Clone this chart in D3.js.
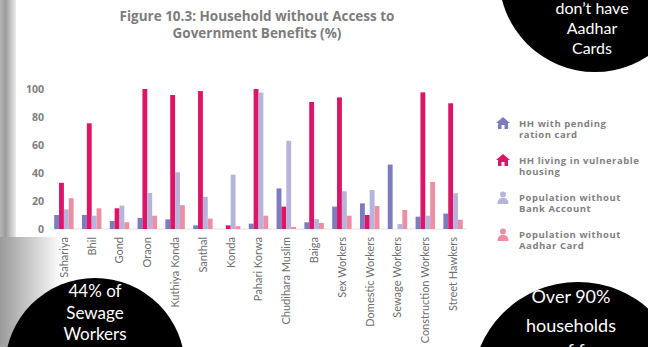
<!DOCTYPE html>
<html>
<head>
<meta charset="utf-8">
<script src="https://cdn.jsdelivr.net/npm/d3@7"></script>
<style>
  html, body { margin: 0; padding: 0; background: #fff; }
  svg { display: block; }
</style>
</head>
<body>
<div id="chart"></div>
<script>
// chart data
const categories = [ 'Sahariya', 'Bhil', 'Gond', 'Oraon', 'Kuthiya Konda', 'Santhal', 'Konda',
  'Pahari Korwa', 'Chudihara Muslim', 'Baiga', 'Sex Workers', 'Domestic Workers',
  'Sewage Workers', 'Construction Workers', 'Street Hawkers' ];
const pendingRation     = [ 10, 10, 5.7, 7.9, 6.9, 2.6, 0, 3.8, 29, 4.8, 16, 18.3, 46, 8.8, 11 ];
const vulnerableHousing = [ 33, 75.5, 14.8, 100, 95.7, 98.5, 2.6, 100, 16, 90.7, 94, 10, 0, 97.6, 89.8 ];
const withoutBank       = [ 14, 9.5, 16.7, 25.7, 40.5, 23, 38.8, 97.5, 63, 7, 27, 27.9, 3.6, 9.5, 25.5 ];
const withoutAadhar     = [ 22, 14.8, 4.8, 9.5, 17, 7.4, 2, 9.5, 1.5, 4.3, 9.5, 16.4, 13.6, 33.6, 6.6 ];
const yTicks = [ 0, 20, 40, 60, 80, 100 ];

const seriesNames = [ 'HH with pending|ration card', 'HH living in vulnerable|housing',
  'Population without|Bank Account', 'Population without|Aadhar Card' ];
const seriesColors = [ '#7b7dbf', '#dc1567', '#b7b4dc', '#ec8ea4' ];
const seriesIcons = [ 'house', 'house', 'person', 'person' ];
const seriesValues = [ pendingRation, vulnerableHousing, withoutBank, withoutAadhar ];

const W = 648, H = 347;
const plot = { left: 50, right: 467, top: 89, bottom: 229 };

const svg = d3.select( '#chart' ).append( 'svg' )
  .attr( 'width', W ).attr( 'height', H );

// slide background bits on the left edge
const defs = svg.append( 'defs' );
const g1 = defs.append( 'linearGradient' ).attr( 'id', 'edge' );
g1.append( 'stop' ).attr( 'offset', '0%' ).attr( 'stop-color', '#b4b4b4' );
g1.append( 'stop' ).attr( 'offset', '35%' ).attr( 'stop-color', '#9c9c9c' );
g1.append( 'stop' ).attr( 'offset', '100%' ).attr( 'stop-color', '#ededed' );
const g2 = defs.append( 'linearGradient' ).attr( 'id', 'corner' );
g2.append( 'stop' ).attr( 'offset', '0%' ).attr( 'stop-color', '#9a9a9a' );
g2.append( 'stop' ).attr( 'offset', '60%' ).attr( 'stop-color', '#d6d6d6' );
g2.append( 'stop' ).attr( 'offset', '100%' ).attr( 'stop-color', '#ffffff' );

svg.append( 'rect' ).attr( 'x', 0 ).attr( 'y', 0 ).attr( 'width', 16 ).attr( 'height', 237 )
  .attr( 'fill', 'url(#edge)' );
svg.append( 'rect' ).attr( 'x', 0 ).attr( 'y', 237 ).attr( 'width', 62 ).attr( 'height', 110 )
  .attr( 'fill', 'url(#corner)' );

// title
const title = svg.append( 'text' )
  .attr( 'x', 257 ).attr( 'y', 21 )
  .attr( 'text-anchor', 'middle' )
  .style( 'font-family', '"Open Sans", sans-serif' )
  .style( 'font-weight', 'bold' )
  .style( 'font-size', '13.5px' )
  .attr( 'fill', '#7c7c7c' );
title.append( 'tspan' ).attr( 'x', 257 ).text( 'Figure 10.3: Household without Access to' );
title.append( 'tspan' ).attr( 'x', 257 ).attr( 'dy', 17 ).text( 'Government Benefits (%)' );

// scales
const x = d3.scaleBand().domain( categories )
  .range( [ plot.left, plot.right ] )
  .paddingInner( 0.3 ).paddingOuter( 0.15 );
const xInner = d3.scaleBand().domain( d3.range( 4 ) ).range( [ 0, x.bandwidth() ] );
const y = d3.scaleLinear().domain( [ 0, 100 ] ).range( [ plot.bottom, plot.top ] );

// y axis labels only
const yAxis = svg.append( 'g' )
  .attr( 'transform', `translate(${plot.left - 6},0)` )
  .call( d3.axisLeft( y ).tickValues( yTicks ).tickSize( 0 ).tickPadding( 0 ) );
yAxis.select( '.domain' ).remove();
yAxis.selectAll( 'text' )
  .style( 'font-family', '"Open Sans", sans-serif' )
  .style( 'font-weight', 'bold' )
  .style( 'font-size', '10.5px' )
  .attr( 'fill', '#7e7e7e' );

// baseline
svg.append( 'line' )
  .attr( 'x1', plot.left ).attr( 'x2', plot.right )
  .attr( 'y1', y( 0 ) ).attr( 'y2', y( 0 ) )
  .attr( 'stroke', '#e2e2e2' ).attr( 'stroke-width', 1 );

// bars
const groups = svg.append( 'g' ).selectAll( 'g' )
  .data( categories )
  .join( 'g' )
  .attr( 'transform', d => `translate(${x( d )},0)` );

groups.selectAll( 'rect' )
  .data( ( d, i ) => seriesValues.map( ( s, k ) => ( { k, v: s[ i ] } ) ) )
  .join( 'rect' )
  .attr( 'x', d => xInner( d.k ) )
  .attr( 'width', xInner.bandwidth() )
  .attr( 'y', d => y( d.v ) )
  .attr( 'height', d => y( 0 ) - y( d.v ) )
  .attr( 'fill', d => seriesColors[ d.k ] );

// x labels, rotated
const xAxis = svg.append( 'g' )
  .attr( 'transform', `translate(0,${plot.bottom + 8})` )
  .call( d3.axisBottom( x ).tickSize( 0 ).tickPadding( 0 ) );
xAxis.select( '.domain' ).remove();
xAxis.selectAll( 'text' )
  .attr( 'transform', 'rotate(-90)' )
  .attr( 'text-anchor', 'end' )
  .attr( 'x', 0 ).attr( 'y', 0 ).attr( 'dy', '0.35em' )
  .style( 'font-family', 'Lato, sans-serif' )
  .style( 'font-size', '11px' )
  .attr( 'fill', '#6e6e6e' );

// legend
const housePath = 'M0,-6 L7,0 L5,0 L5,6 L1.5,6 L1.5,2 L-1.5,2 L-1.5,6 L-5,6 L-5,0 L-7,0 Z';
const legend = svg.append( 'g' );
seriesNames.forEach( ( name, k ) => {
  const ly = 123 + k * 37;
  const item = legend.append( 'g' ).attr( 'transform', `translate(503,${ly})` );
  if ( seriesIcons[ k ] === 'house' ) {
    item.append( 'path' ).attr( 'd', housePath ).attr( 'fill', seriesColors[ k ] );
  } else {
    item.append( 'circle' ).attr( 'cx', 0 ).attr( 'cy', -2.5 ).attr( 'r', 3 )
      .attr( 'fill', seriesColors[ k ] );
    item.append( 'path' ).attr( 'd', 'M-5.5,7 C-5.5,2 -3,1 0,1 C3,1 5.5,2 5.5,7 Z' )
      .attr( 'fill', seriesColors[ k ] );
  }
  name.split( '|' ).forEach( ( line, j ) => {
    item.append( 'text' )
      .attr( 'x', 16 ).attr( 'y', 3.5 + j * 11.5 )
      .style( 'font-family', '"Open Sans", sans-serif' )
      .style( 'font-weight', 'bold' )
      .style( 'font-size', '9.5px' )
      .style( 'letter-spacing', '0.55px' )
      .attr( 'fill', '#818181' )
      .text( line );
  } );
} );

// black call-out circles from the slide
const callouts = [
  { cx: 595, cy: -24, r: 96, lines: [ 'don\u2019t have', 'Aadhar', 'Cards' ], tx: 592, ys: [ 14, 34, 54 ], fs: 16 },
  { cx: 95, cy: 368, r: 90, lines: [ '44% of', 'Sewage', 'Workers' ], tx: 95, ys: [ 297, 318.5, 340 ], fs: 17 },
  { cx: 578, cy: 388, r: 106, lines: [ 'Over 90%', 'households', 'of f' ], tx: 571, ys: [ 303, 332, 357 ], fs: 18 }
];
callouts.forEach( c => {
  svg.append( 'circle' ).attr( 'cx', c.cx ).attr( 'cy', c.cy ).attr( 'r', c.r ).attr( 'fill', '#000' );
  c.lines.forEach( ( line, j ) => {
    svg.append( 'text' )
      .attr( 'x', c.tx ).attr( 'y', c.ys[ j ] )
      .attr( 'text-anchor', 'middle' )
      .style( 'font-family', 'Lato, sans-serif' )
      .style( 'font-size', c.fs + 'px' )
      .attr( 'fill', '#fff' )
      .text( line );
  } );
} );
</script>
</body>
</html>
